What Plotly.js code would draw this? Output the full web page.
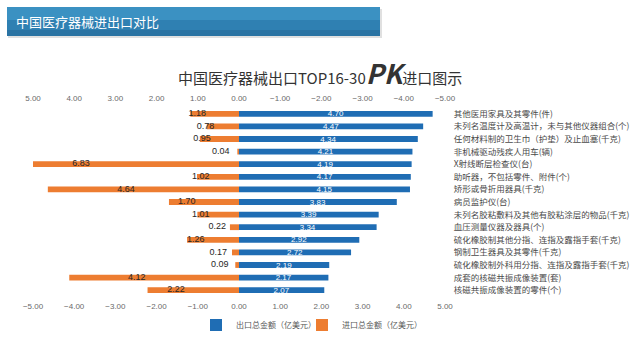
<!DOCTYPE html>
<html>
<head>
<meta charset="utf-8">
<script src="https://cdn.plot.ly/plotly-3.0.1.min.js"></script>
<style>
html,body{margin:0;padding:0;background:#fff;}
#chart{width:640px;height:353px;}
</style>
</head>
<body>
<div id="chart"></div>
<script>
const categories = [
  "其他医用家具及其零件(件)",
  "未列名温度计及高温计，未与其他仪器组合(个)",
  "任何材料制的卫生巾（护垫）及止血塞(千克)",
  "非机械驱动残疾人用车(辆)",
  "X射线断层检查仪(台)",
  "助听器，不包括零件、附件(个)",
  "矫形或骨折用器具(千克)",
  "病员监护仪(台)",
  "未列名胶粘敷料及其他有胶粘涂层的物品(千克)",
  "血压测量仪器及器具(个)",
  "硫化橡胶制其他分指、连指及露指手套(千克)",
  "钢制卫生器具及其零件(千克)",
  "硫化橡胶制外科用分指、连指及露指手套(千克)",
  "成套的核磁共振成像装置(套)",
  "核磁共振成像装置的零件(个)"
];
const exportValues = [4.70, 4.47, 4.34, 4.21, 4.19, 4.17, 4.15, 3.83, 3.39, 3.34, 2.92, 2.72, 2.19, 2.17, 2.07];
const importValues = [1.18, 0.78, 0.95, 0.04, 6.83, 1.02, 4.64, 1.70, 1.01, 0.22, 1.26, 0.17, 0.09, 4.12, 2.22];
const tickValues = [-5, -4, -3, -2, -1, 0, 1, 2, 3, 4, 5];
const exportName = "出口总金额（亿美元）";
const importName = "进口总金额（亿美元）";
const headerText = "中国医疗器械进出口对比";

const W = 640, H = 353, ML = 33, MR = 195, MT = 104, MB = 53;
const pw = W - ML - MR, ph = H - MT - MB;
const px = x => (x - ML) / pw;
const py = y => (H - MB - y) / ph;

const CJK = "'Noto Sans CJK SC', 'Noto Sans', sans-serif";
const blue = "#1f6db4", orange = "#ed7d31";

const traces = [
  {
    type: "bar", orientation: "h", name: exportName, legend: "legend",
    y: categories, x: exportValues,
    marker: {color: blue}, width: 0.46,
    text: exportValues.map(v => v.toFixed(2)),
    textposition: "inside", insidetextanchor: "middle",
    constraintext: "none", textangle: 0,
    insidetextfont: {color: "#ffffff", size: 8, family: "Liberation Sans, sans-serif"},
    hoverinfo: "none"
  },
  {
    type: "bar", orientation: "h", name: importName, legend: "legend2",
    y: categories, x: importValues.map(v => -v),
    marker: {color: orange}, width: 0.46,
    hoverinfo: "none"
  },
  {
    type: "scatter", mode: "text", showlegend: false,
    xaxis: "x2", y: categories,
    x: importValues.map(v => v / 2 + 0.42),
    text: importValues.map(v => v.toFixed(2)),
    textfont: {color: "#262626", size: 9, family: "Liberation Sans, sans-serif"},
    textposition: "middle center", cliponaxis: false,
    hoverinfo: "none"
  }
];

const tickFont = {size: 8, color: "#6a6a6a", family: "Liberation Sans, sans-serif"};
const legendFont = {size: 8, color: "#595959", family: CJK};

const layout = {
  width: W, height: H,
  margin: {l: ML, r: MR, t: MT, b: MB, pad: 0, autoexpand: false},
  paper_bgcolor: "#ffffff", plot_bgcolor: "#ffffff",
  barmode: "overlay",
  showlegend: true,
  legend: {
    orientation: "h", x: px(196), xanchor: "left", y: py(325), yanchor: "middle",
    font: legendFont, itemwidth: 30, bgcolor: "rgba(0,0,0,0)"
  },
  legend2: {
    orientation: "h", x: px(302), xanchor: "left", y: py(325), yanchor: "middle",
    font: legendFont, itemwidth: 30, bgcolor: "rgba(0,0,0,0)"
  },
  xaxis: {
    range: [-5, 5], tickvals: tickValues, tickformat: ".2f",
    showgrid: false, zeroline: false, showline: false, ticks: "",
    tickfont: tickFont, fixedrange: true
  },
  xaxis2: {
    overlaying: "x", side: "top", range: [5, -5], tickvals: tickValues, tickformat: ".2f",
    showgrid: false, zeroline: false, showline: false, ticks: "",
    tickfont: tickFont, fixedrange: true
  },
  yaxis: {
    type: "category", autorange: "reversed", side: "right",
    showgrid: false, zeroline: false, showline: false,
    ticks: "outside", ticklen: 6, tickcolor: "rgba(0,0,0,0)",
    tickfont: {size: 8.5, color: "#4a4a4a", family: CJK}, fixedrange: true
  },
  shapes: [
    {type: "rect", xref: "paper", yref: "paper", x0: px(8), x1: px(382), y0: py(9), y1: py(38),
     fillcolor: "rgba(0,0,0,0.12)", line: {width: 0}, layer: "below"},
    {type: "rect", xref: "paper", yref: "paper", x0: px(7), x1: px(380), y0: py(7), y1: py(36),
     fillcolor: "#2f80b2", line: {width: 0}, layer: "below"},
    {type: "rect", xref: "paper", yref: "paper", x0: px(7), x1: px(380), y0: py(7), y1: py(20),
     fillcolor: "#3b91c2", line: {width: 0}, layer: "below"},
    {type: "rect", xref: "paper", yref: "paper", x0: px(7), x1: px(380), y0: py(30), y1: py(36),
     fillcolor: "#2a73a3", line: {width: 0}, layer: "below"}
  ],
  annotations: [
    {xref: "paper", yref: "paper", x: px(14), y: py(21.5), xanchor: "left", yanchor: "middle",
     text: headerText, showarrow: false,
     font: {size: 13, color: "#ffffff", family: CJK}},
    {xref: "paper", yref: "paper", x: px(320), y: py(72), xanchor: "center", yanchor: "middle",
     text: "中国医疗器械出口TOP16-30<span style=\"font-size:27px;font-style:italic;font-weight:bold\">PK</span>进口图示",
     showarrow: false,
     font: {size: 15, color: "#333333", family: CJK}}
  ]
};

Plotly.newPlot("chart", traces, layout, {displayModeBar: false, staticPlot: true});
</script>
</body>
</html>
